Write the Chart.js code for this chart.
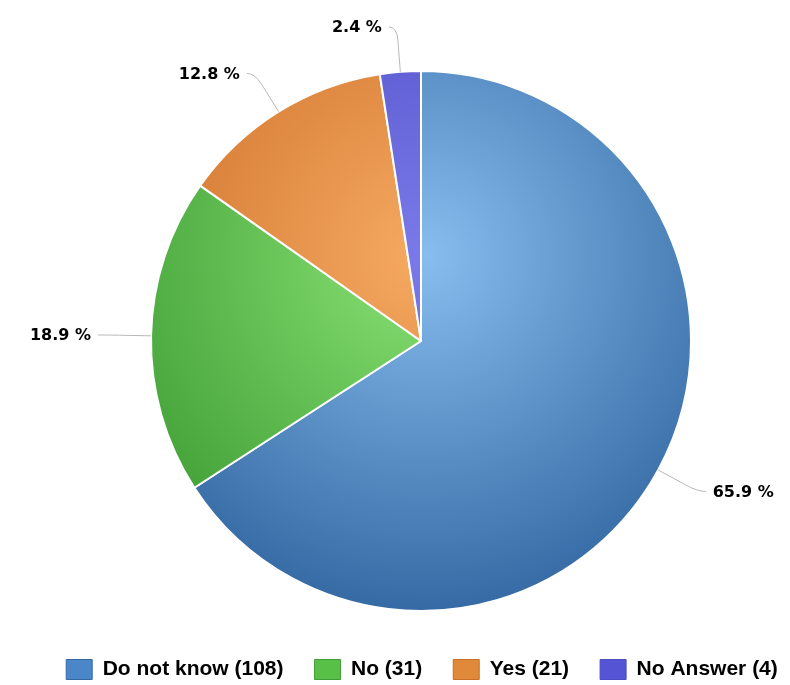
<!DOCTYPE html>
<html>
<head>
<meta charset="utf-8">
<script src="https://cdn.jsdelivr.net/npm/chart.js@4.4.1/dist/chart.umd.min.js"></script>
<style>
  html, body { margin: 0; padding: 0; background: #fff; }
  #wrap { width: 790px; height: 685px; }
</style>
</head>
<body>
<div id="wrap"><canvas id="myChart" width="790" height="685"></canvas></div>
<script>
/* global Chart */

let labels = ["Do not know", "No", "Yes", "No Answer"];
let counts = [108, 31, 21, 4];
let lightColors = ["#88bdef", "#8ae274", "#f6aa62", "#7a7aea"];
let darkColors = ["#3469a3", "#3f9e35", "#cc6e28", "#4c4cc4"];
let legendColors = ["#4a86c8", "#58bf47", "#e0893a", "#5454d4"];

let total = counts.reduce((a, b) => a + b, 0);

function sliceFill(context) {
  const chart = context.chart;
  const area = chart.chartArea;
  const i = context.dataIndex;
  if (!area) return legendColors[i];
  const cx = (area.left + area.right) / 2;
  const cy = (area.top + area.bottom) / 2;
  const g = chart.ctx.createRadialGradient(cx + 4, cy - 85, 0, cx + 4, cy - 85, 360);
  g.addColorStop(0, lightColors[i]);
  g.addColorStop(1, darkColors[i]);
  return g;
}

// nudge the pie right of the legend's centre, like the original
const shiftPie = {
  id: "shiftPie",
  afterLayout(chart) {
    const a = chart.chartArea;
    const cx = (a.left + a.right) / 2;
    const dx = 421 - cx;
    a.left += dx;
    a.right += dx;
  }
};

// outside labels with soft connectors
const pieLabels = {
  id: "pieLabels",
  afterDatasetsDraw(chart) {
    const ctx = chart.ctx;
    const meta = chart.getDatasetMeta(0);
    const d = 45;
    ctx.save();
    meta.data.forEach((arc, i) => {
      const p = arc.getProps(["x", "y", "startAngle", "endAngle", "outerRadius"], true);
      const mid = (p.startAngle + p.endAngle) / 2;
      const ex = p.x + Math.cos(mid) * p.outerRadius;
      const ey = p.y + Math.sin(mid) * p.outerRadius;
      const ax = p.x + Math.cos(mid) * (p.outerRadius + d);
      const ay = p.y + Math.sin(mid) * (p.outerRadius + d);
      const side = Math.cos(mid) >= 0 ? 1 : -1;
      ctx.strokeStyle = "#b8b8b8";
      ctx.lineWidth = 1;
      ctx.beginPath();
      ctx.moveTo(ax + side * 8, ay);
      ctx.quadraticCurveTo(ax, ay, ax + (ex - ax) * 0.3, ay + (ey - ay) * 0.3);
      ctx.lineTo(ex, ey);
      ctx.stroke();
      const pct = (counts[i] / total * 100).toFixed(1) + " %";
      ctx.fillStyle = "#000";
      ctx.font = "bold 16px 'DejaVu Sans', sans-serif";
      ctx.textBaseline = "middle";
      ctx.textAlign = side > 0 ? "left" : "right";
      ctx.fillText(pct, ax + side * 15, ay + 1);
    });
    ctx.restore();
  }
};

const ctx = document.getElementById("myChart");
const myChart = new Chart(ctx, {
  type: "pie",
  data: {
    labels: labels,
    datasets: [
      {
        data: counts,
        backgroundColor: sliceFill,
        borderColor: "#ffffff",
        borderWidth: 2,
        radius: 270,
      },
    ],
  },
  options: {
    responsive: false,
    animation: false,
    layout: {
      padding: { left: 27, right: -27, top: 54, bottom: -5 },
    },
    plugins: {
      tooltip: { enabled: false },
      legend: {
        position: "bottom",
        labels: {
          boxWidth: 26,
          boxHeight: 20,
          padding: 31,
          color: "#333",
          font: { family: "'Liberation Sans', Arial, sans-serif", size: 21, weight: "bold" },
          generateLabels: function (chart) {
            return labels.map((l, i) => ({
              text: l + " (" + counts[i] + ")",
              fillStyle: legendColors[i],
              strokeStyle: darkColors[i],
              lineWidth: 1,
              index: i,
            }));
          },
        },
      },
    },
  },
  plugins: [shiftPie, pieLabels],
});
</script>
</body>
</html>
